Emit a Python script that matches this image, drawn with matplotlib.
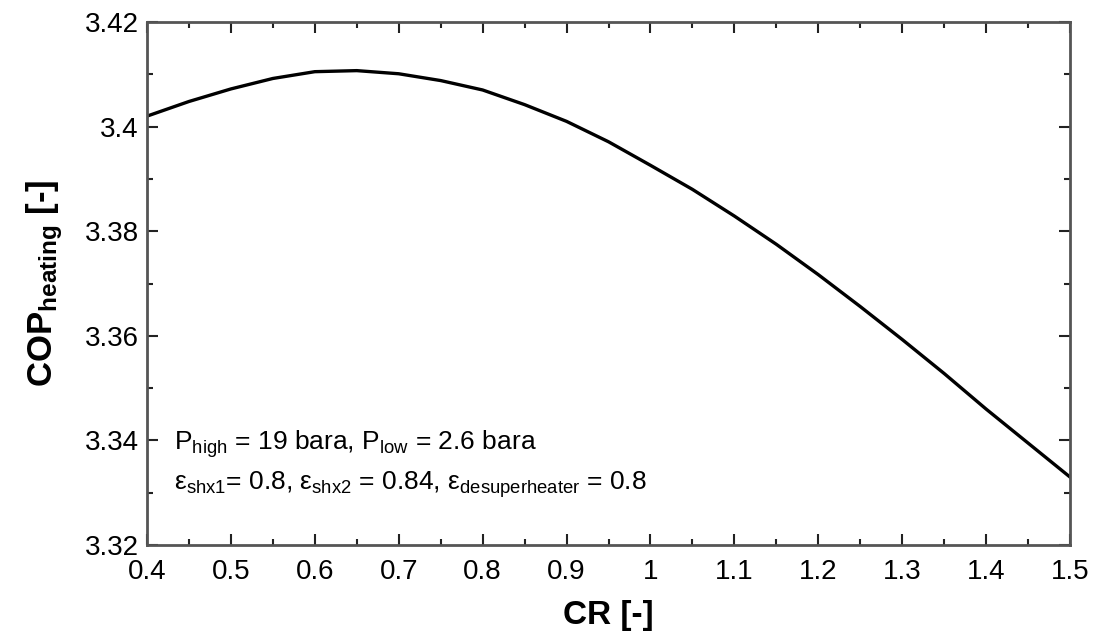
import numpy as np
import matplotlib.pyplot as plt
from matplotlib.ticker import MultipleLocator, FormatStrFormatter

# data
cr = [0.40, 0.45, 0.50, 0.55, 0.60, 0.65, 0.70, 0.75, 0.80, 0.85, 0.90, 0.95,
      1.00, 1.05, 1.10, 1.15, 1.20, 1.25, 1.30, 1.35, 1.40, 1.45, 1.50]
cop = [3.4020, 3.4048, 3.4072, 3.4092, 3.4105, 3.4107, 3.4101, 3.4088, 3.4070,
       3.4042, 3.4010, 3.3971, 3.3926, 3.3880, 3.3829, 3.3775, 3.3717, 3.3656,
       3.3593, 3.3528, 3.3460, 3.3395, 3.3330]

plt.rcParams['font.family'] = ['Liberation Sans', 'DejaVu Sans']
plt.rcParams['mathtext.fontset'] = 'custom'
plt.rcParams['mathtext.rm'] = 'Liberation Sans'
plt.rcParams['mathtext.bf'] = 'Liberation Sans:bold'
plt.rcParams['mathtext.it'] = 'Liberation Sans:italic'

fig = plt.figure(figsize=(10.97, 6.39), dpi=100)
ax = fig.add_axes([0.134, 0.147, 0.8414, 0.8186])

ax.plot(cr, cop, color='black', lw=2.4)

ax.set_xlim(0.4, 1.5)
ax.set_ylim(3.32, 3.42)
ax.xaxis.set_major_locator(MultipleLocator(0.1))
ax.xaxis.set_minor_locator(MultipleLocator(0.05))
ax.yaxis.set_major_locator(MultipleLocator(0.02))
ax.yaxis.set_minor_locator(MultipleLocator(0.01))
ax.xaxis.set_major_formatter(FormatStrFormatter('%g'))
ax.yaxis.set_major_formatter(FormatStrFormatter('%g'))

ax.tick_params(which='both', direction='in', top=True, right=True,
               color='#222222', width=1.5)
ax.tick_params(which='major', length=8, labelsize=20)
ax.tick_params(axis='x', which='major', pad=10)
ax.tick_params(axis='y', which='major', pad=6)
ax.tick_params(which='minor', length=4.5)
for s in ax.spines.values():
    s.set_linewidth(2)
    s.set_color('#555555')

ax.set_xlabel('CR [-]', fontsize=24, fontweight='bold', labelpad=11)
ax.set_ylabel(r'COP$_{\mathbf{heating}}$ [-]', fontsize=25, fontweight='bold',
              labelpad=14)

ax.text(0.432, 3.3392, r'P$_{\mathrm{high}}$ = 19 bara, P$_{\mathrm{low}}$ = 2.6 bara',
        fontsize=19, va='center')
ax.text(0.432, 3.3315, r'ε$_{\mathrm{shx1}}$= 0.8, ε$_{\mathrm{shx2}}$ = 0.84, '
        r'ε$_{\mathrm{desuperheater}}$ = 0.8', fontsize=19, va='center')

fig.savefig('out.png', dpi=100)
